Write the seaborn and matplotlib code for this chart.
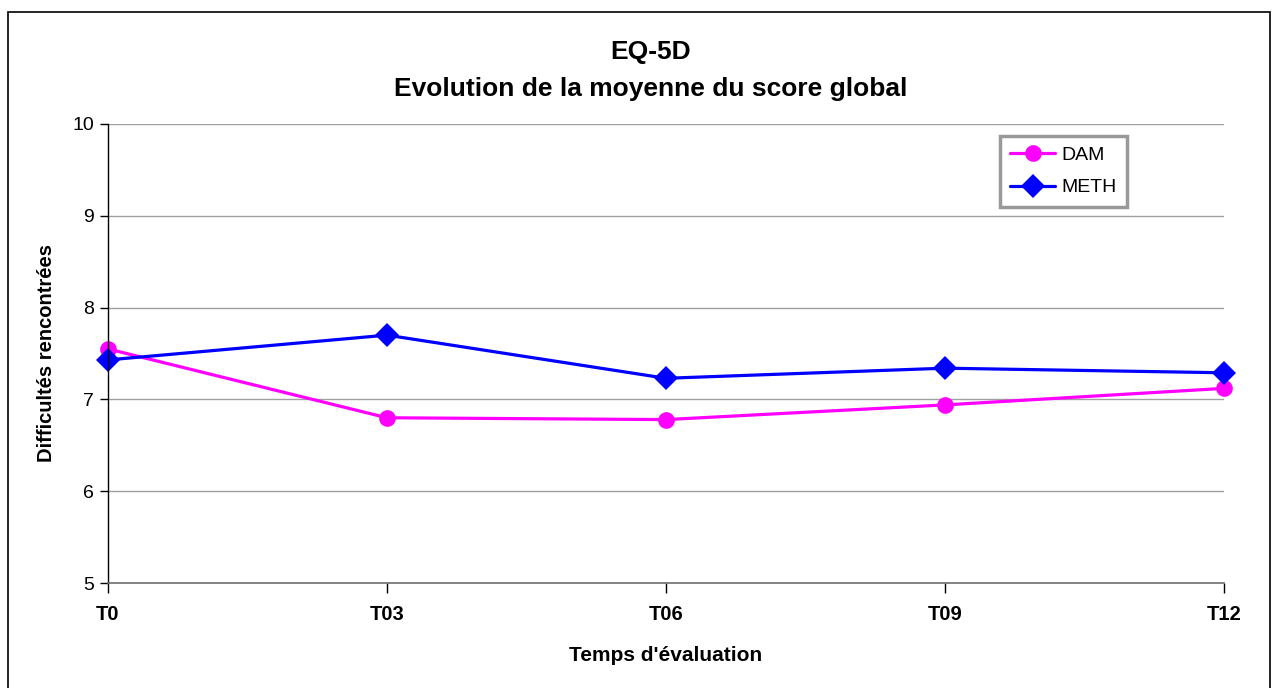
import matplotlib
matplotlib.use("Agg")
from matplotlib import pyplot as plt
from matplotlib.patches import Rectangle
import seaborn as sns
import pandas as pd

# Donnees
temps = ["T0", "T03", "T06", "T09", "T12"]
dam = [7.55, 6.80, 6.78, 6.94, 7.12]
meth = [7.43, 7.70, 7.23, 7.34, 7.29]

df = pd.DataFrame({
    "temps": temps * 2,
    "score": dam + meth,
    "groupe": ["DAM"] * len(temps) + ["METH"] * len(temps),
})

sns.set_style("white")
plt.rcParams["font.family"] = ["Liberation Sans", "DejaVu Sans"]
plt.rcParams["text.color"] = "black"
plt.rcParams["axes.labelcolor"] = "black"
plt.rcParams["xtick.color"] = "black"
plt.rcParams["ytick.color"] = "black"

fig = plt.figure(figsize=(12.76, 6.88), dpi=100)
ax = fig.add_axes([0.0846, 0.1526, 0.8746, 0.6672])

couleurs = {"DAM": "#ff00ff", "METH": "#0000ff"}
marqueurs = {"DAM": "o", "METH": "D"}
sns.lineplot(data=df, x="temps", y="score", hue="groupe", style="groupe",
             palette=couleurs, markers=marqueurs, dashes=False,
             markersize=12, linewidth=2.3, markeredgewidth=0, ax=ax)
for ligne in ax.lines:
    ligne.set_clip_on(False)

ax.set_xlim(0, 4)
ax.set_ylim(5, 10)
ax.set_yticks([5, 6, 7, 8, 9, 10])
ax.yaxis.grid(True, color="#a0a0a0", linewidth=1)
ax.xaxis.grid(False)
for side in ["top", "right"]:
    ax.spines[side].set_visible(False)
ax.spines["left"].set_color("black")
ax.spines["bottom"].set_color("#707070")
ax.spines["left"].set_linewidth(1)
ax.spines["bottom"].set_linewidth(1.2)
ax.tick_params(axis="y", left=True, length=6, width=1, color="black",
               labelsize=14, pad=4)
ax.tick_params(axis="x", bottom=True, length=7, width=1, color="black",
               labelsize=14.5, pad=9)
for lab in ax.get_xticklabels():
    lab.set_fontweight("bold")

ax.set_xlabel("Temps d'évaluation", fontsize=15, fontweight="bold", labelpad=16)
ax.set_ylabel("Difficultés rencontrées", fontsize=14.5, fontweight="bold", labelpad=12)
ax.set_title("EQ-5D\nEvolution de la moyenne du score global",
             fontsize=19, fontweight="bold", pad=20, linespacing=1.7,
             x=0.4866)

leg = ax.legend(loc="upper right", bbox_to_anchor=(0.913, 0.974),
                fontsize=14, frameon=True, fancybox=False,
                handlelength=2.3, handletextpad=0.3, borderpad=0.55,
                labelspacing=0.75, borderaxespad=0)
leg.get_frame().set_edgecolor("#808080")
leg.get_frame().set_linewidth(2.5)

# cadre exterieur
fig.patches.append(Rectangle((8 / 1276, -0.01), 1262 / 1276, 1 - 12 / 688 + 0.01,
                             transform=fig.transFigure, fill=False,
                             edgecolor="black", linewidth=1.2))

fig.savefig("out.png", dpi=100)
